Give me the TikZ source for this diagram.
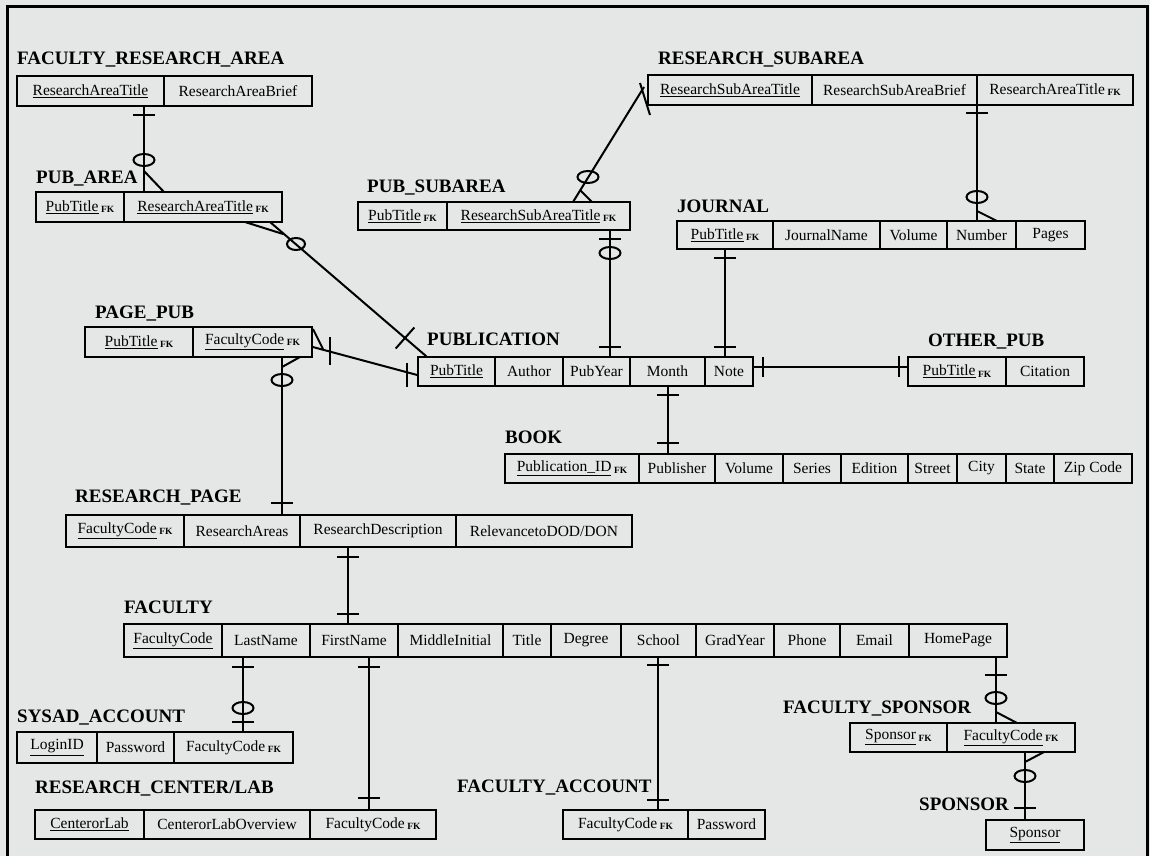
\documentclass[tikz,border=0pt]{standalone}
\usepackage{fontspec}
\setmainfont{Liberation Serif}
\definecolor{bg}{HTML}{E5E7E6}
\newcommand\fk{\,\raisebox{-1.2pt}{\fontsize{9.5}{10}\selectfont\bfseries FK}}
\tikzset{
  cell/.style={draw=black, line width=1.6pt, inner sep=0pt, font=\fontsize{15.5}{17}\selectfont, anchor=center},
  ttl/.style={anchor=base west, inner sep=0pt, font=\fontsize{19}{21}\selectfont\bfseries},
  conn/.style={line width=2pt, line cap=butt},
}
\newcommand\erow[4]{\foreach \xa/\xb/\txt [count=\i] in {#4}{\node[cell, minimum width={(\xb-\xa)*1pt}, minimum height={(#3-#2)*1pt}] (#1-\i) at ({(\xa+\xb)/2},{(#2+#3)/2}) {\txt};}}
\newcommand\vconn[3]{\coordinate (vx) at (#3,0); \draw[conn] (#1 -| vx) -- (#2 -| vx);}
\newcommand\htick[2]{\draw[conn] (#1-11,#2) -- (#1+11,#2);}
\newcommand\vtick[3]{\draw[conn] (#1,#2) -- (#1,#3);}
\newcommand\ovl[2]{\draw[conn] (#1,#2) ellipse [x radius=10.5pt, y radius=6pt];}
\begin{document}
\begin{tikzpicture}[x=1pt,y=-1pt]
\fill[bg] (0,0) rectangle (1150,856);
\useasboundingbox (0,0) rectangle (1150,856);
\draw[line width=3pt] (7,856) -- (7,7) -- (1147,7) -- (1147,856);

% titles
\node[ttl] (t-fra) at (17,65) {FACULTY\_RESEARCH\_AREA};
\node[ttl] (t-pa) at (36,183) {PUB\_AREA};
\node[ttl] (t-psa) at (367,192) {PUB\_SUBAREA};
\node[ttl] (t-rs) at (658,65) {RESEARCH\_SUBAREA};
\node[ttl] (t-jr) at (677,212) {JOURNAL};
\node[ttl] (t-pp) at (95,318) {PAGE\_PUB};
\node[ttl] (t-pub) at (427,345) {PUBLICATION};
\node[ttl] (t-op) at (928,346) {OTHER\_PUB};
\node[ttl] (t-bk) at (505,443) {BOOK};
\node[ttl] (t-rp) at (75,502) {RESEARCH\_PAGE};
\node[ttl] (t-fac) at (124,613) {FACULTY};
\node[ttl] (t-sys) at (17,722) {SYSAD\_ACCOUNT};
\node[ttl] (t-rcl) at (35,793) {RESEARCH\_CENTER/LAB};
\node[ttl] (t-fa) at (457,792) {FACULTY\_ACCOUNT};
\node[ttl] (t-fs) at (783,713) {FACULTY\_SPONSOR};
\node[ttl] (t-sp) at (919,810) {SPONSOR};

% tables
\erow{fra}{76}{106}{17/164/\underline{ResearchAreaTitle}, 164/312/ResearchAreaBrief}
\erow{pa}{192}{222}{36/124/\underline{PubTitle}\fk, 124/282/\underline{ResearchAreaTitle}\fk}
\erow{psa}{202}{230}{358/447/\underline{PubTitle}\fk, 447/630/\underline{ResearchSubAreaTitle}\fk}
\erow{rs}{75}{105}{648/812/\underline{ResearchSubAreaTitle}, 812/977/ResearchSubAreaBrief, 977/1133/ResearchAreaTitle\fk}
\erow{jr}{221}{249}{677/773/\underline{PubTitle}\fk, 773/880/JournalName, 880/947/Volume, 947/1016/Number, 1016/1085/Pages}
\erow{pp}{327}{357}{85/193/\underline{PubTitle}\fk, 193/312/\underline{FacultyCode}\fk}
\erow{pub}{357}{386}{418/495/\underline{PubTitle}, 495/563/Author, 563/630/PubYear, 630/705/Month, 705/753/Note}
\erow{op}{357}{386}{908/1006/\underline{PubTitle}\fk, 1006/1084/Citation}
\erow{bk}{454}{483}{505/639/\underline{Publication\_ID}\fk, 639/715/Publisher, 715/783/Volume, 783/841/Series, 841/908/Edition, 908/957/Street, 957/1006/City, 1006/1054/State, 1054/1132/Zip Code}
\erow{rp}{515}{547}{66/184/\underline{FacultyCode}\fk, 184/300/ResearchAreas, 300/456/ResearchDescription, 456/632/{RelevancetoDOD/DON}}
\erow{fac}{624}{657}{124/222/\underline{FacultyCode}, 222/310/LastName, 310/398/FirstName, 398/503/MiddleInitial, 503/551/Title, 551/621/Degree, 621/696/School, 696/774/GradYear, 774/840/Phone, 840/909/Email, 909/1007/HomePage}
\erow{sys}{732}{763}{17/97/\underline{LoginID}, 97/174/Password, 174/293/FacultyCode\fk}
\erow{rcl}{810}{839}{35/144/\underline{CenterorLab}, 144/310/CenterorLabOverview, 310/436/FacultyCode\fk}
\erow{fa}{810}{839}{563/688/FacultyCode\fk, 688/765/Password}
\erow{fs}{723}{752}{850/947/\underline{Sponsor}\fk, 947/1075/\underline{FacultyCode}\fk}
\erow{sp}{820}{850}{986/1084/\underline{Sponsor}}

% FACULTY_RESEARCH_AREA - PUB_AREA
\vconn{fra-1.south}{pa-2.north}{144}
\htick{144}{115} \ovl{144}{160}
\draw[conn] (144,171) -- (164,192);

% RESEARCH_SUBAREA - JOURNAL
\vconn{rs-3.south}{jr-4.north}{977}
\htick{977}{113} \ovl{977}{197}
\draw[conn] (977,211) -- (997,221);

% PUB_SUBAREA - RESEARCH_SUBAREA
\coordinate (psa-top) at (573,202);
\coordinate (rs-in) at (644,87);
\draw[conn] (psa-top) -- (rs-in);
\draw[conn] (640,83) -- (650,115);
\ovl{588}{177}
\draw[conn] (580,190) -- (592,202);

% PUB_SUBAREA - PUBLICATION
\vconn{psa-2.south}{pub-3.north}{610}
\htick{610}{239} \ovl{610}{253} \htick{610}{347}

% JOURNAL - PUBLICATION
\vconn{jr-1.south}{pub-5.north}{725}
\htick{725}{258} \htick{725}{347}

% PUBLICATION - BOOK
\vconn{pub-4.south}{bk-2.north}{668}
\htick{668}{395} \htick{668}{443}

% PUBLICATION - OTHER_PUB
\draw[conn] ([yshift=4.5pt]pub-5.east) -- ([yshift=4.5pt]op-1.west);
\vtick{763}{357}{377} \vtick{899}{356}{377}

% PUB_AREA - PUBLICATION
\coordinate (pa-out) at (270,222);
\draw[conn] (pa-out) -- ([xshift=9pt]pub-1.north west);
\draw[conn] (245,222) -- (283,234);
\draw[conn] (296,244) ellipse [x radius=9pt, y radius=6pt];
\draw[conn] (395.7,348.5) -- (414.3,327.5);

% PAGE_PUB - PUBLICATION
\draw[conn] ([yshift=-5pt]pp-2.east) -- ([yshift=-3.5pt]pub-1.west);
\draw[conn] (313,329) -- (323,349);
\vtick{330}{337}{365} \vtick{407}{363}{387}

% PAGE_PUB - RESEARCH_PAGE
\vconn{pp-2.south}{rp-2.north}{282}
\draw[conn] (282,367) -- (300,357);
\ovl{282}{380} \htick{282}{503}

% RESEARCH_PAGE - FACULTY
\vconn{rp-3.south}{fac-3.north}{348}
\htick{348}{557} \htick{348}{614}

% FACULTY - SYSAD_ACCOUNT
\vconn{fac-2.south}{sys-3.north}{243}
\htick{243}{667} \ovl{243}{708} \htick{243}{722}

% FACULTY - RESEARCH_CENTER/LAB
\vconn{fac-3.south}{rcl-3.north}{369}
\htick{369}{667} \htick{369}{798}

% FACULTY - FACULTY_ACCOUNT
\vconn{fac-7.south}{fa-1.north}{658}
\htick{658}{665} \htick{658}{800}

% FACULTY - FACULTY_SPONSOR
\vconn{fac-11.south}{fs-2.north}{996}
\htick{996}{675} \ovl{996}{698}
\draw[conn] (996,712) -- (1017,723);

% FACULTY_SPONSOR - SPONSOR
\vconn{fs-2.south}{sp-1.north}{1025}
\draw[conn] (1025,762) -- (1044,752);
\ovl{1025}{776} \htick{1025}{808}
\end{tikzpicture}
\end{document}
